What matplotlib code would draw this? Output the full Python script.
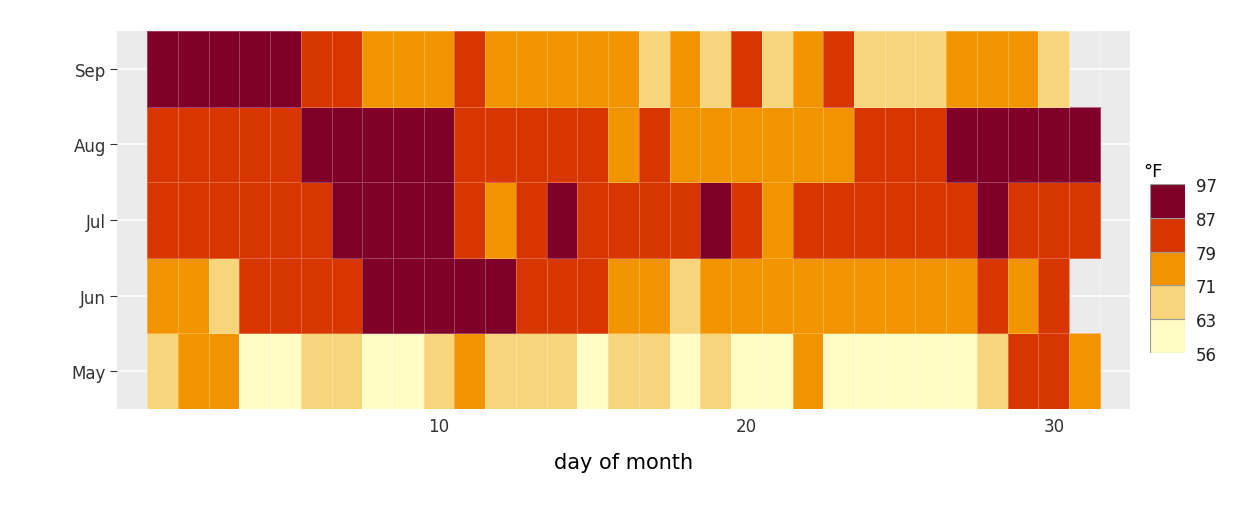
import numpy as np
import matplotlib
matplotlib.use("Agg")
import matplotlib.pyplot as plt
from matplotlib.colors import ListedColormap, BoundaryNorm

months = ["May", "Jun", "Jul", "Aug", "Sep"]
bounds = [56, 63, 71, 79, 87, 97]
colors = ["#fffdc4", "#f8d47b", "#f29400", "#d83600", "#7f0028"]
# bin codes per day: Y=0 (56-63), L=1, O=2, R=3, D=4
mid = {"Y": 60, "L": 67, "O": 75, "R": 83, "D": 92}
may = "LOOYYLLYYLOLLLYLLYLYYOYYYYYLRRO"
jun = "OOLRRRRDDDDDRRROOLOOOOOOOOORORO"[:30]
jul = "RRRRRRDDDDRORDRRRRDRORRRRRRDRRR"
aug = "RRRRRDDDDDRRRRRORORRRRRRRRDDDDD"
aug = "RRRRRDDDDDRRRRRORO" + "OOOOO" + "RRR" + "DDDDD"
sep = "DDDDDRROOOROOOOOLOLRLORLLLOOOL"
rows = [may, jun, jul, aug, sep]

grid = np.full((5, 31), np.nan)
for i, r in enumerate(rows):
    for j, c in enumerate(r):
        grid[i, j] = mid[c]

cmap = ListedColormap(colors)
norm = BoundaryNorm(bounds, cmap.N)

fig = plt.figure(figsize=(12.6, 5.1), dpi=100)
ax = fig.add_axes([117/1260, 100/510, 1013/1260, 378/510])
ax.set_facecolor("#ebebeb")
for y in range(5):
    ax.axhline(y, color="white", lw=1.2, zorder=0)
for x in [10, 20, 30]:
    ax.axvline(x, color="white", lw=1.2, zorder=0)
days = np.arange(1, 32)
ax.pcolormesh(np.arange(0.5, 32.5, 1), np.arange(-0.5, 5.5, 1), np.ma.masked_invalid(grid),
              cmap=cmap, norm=norm, edgecolors=(1, 1, 1, 0.25), linewidth=0.5, zorder=1)
ax.set_xlim(-0.48, 32.48)
ax.set_ylim(-0.5, 4.5)
ax.set_xticks([10, 20, 30])
ax.set_yticks(range(5))
ax.set_yticklabels(months)
for s in ax.spines.values():
    s.set_visible(False)
ax.tick_params(axis="x", length=0, labelsize=12, colors="#333333", pad=6)
ax.tick_params(axis="y", length=5, labelsize=12, colors="#333333", pad=3)
ax.set_xlabel("day of month", fontsize=15, labelpad=12)

lax = fig.add_axes([1150/1260, (510-354)/510, 35/1260, 169/510])
for k in range(5):
    lax.add_patch(plt.Rectangle((0, k), 1, 1, facecolor=colors[k], edgecolor="#999999", lw=0.8))
lax.set_xlim(0, 1)
lax.set_ylim(0, 5)
lax.set_xticks([])
lax.yaxis.tick_right()
lax.set_yticks(range(6))
lax.set_yticklabels([str(b) for b in bounds])
lax.tick_params(axis="y", length=0, labelsize=12, colors="#222222", pad=8)
for s in lax.spines.values():
    s.set_visible(False)
fig.text(1143/1260, 1-172/510, "°F", fontsize=13, va="center")

fig.savefig("out.png", dpi=100)
